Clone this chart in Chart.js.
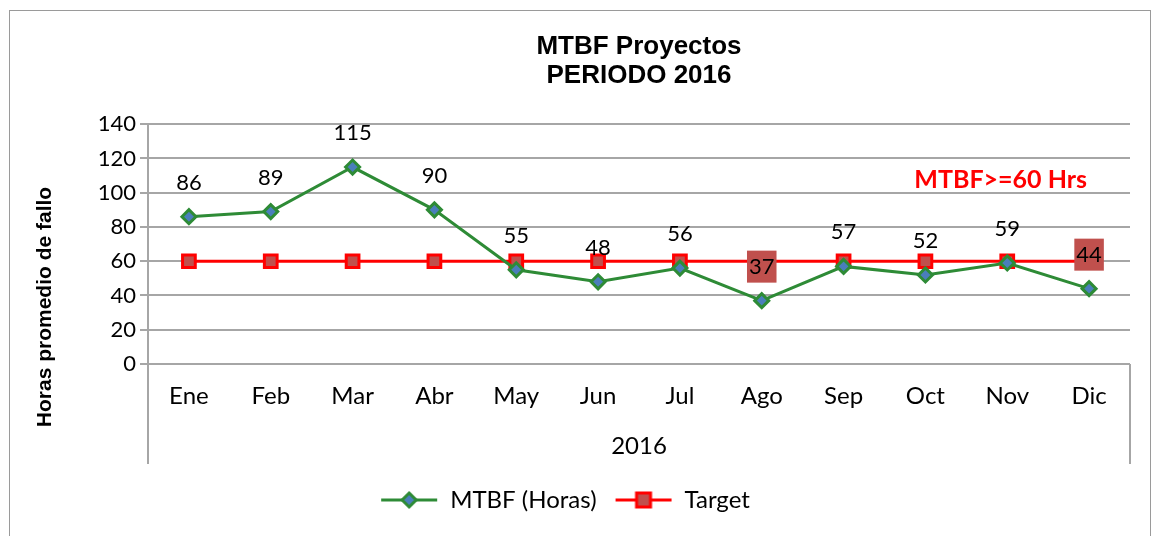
<!DOCTYPE html>
<html>
<head>
<meta charset="utf-8">
<script src="https://cdn.jsdelivr.net/npm/chart.js@4.4.0/dist/chart.umd.min.js"></script>
<style>
  html, body { margin: 0; padding: 0; background: #fff; }
  #wrap { position: relative; width: 1158px; height: 536px; }
</style>
</head>
<body>
<div id="wrap"><canvas id="chart" width="1158" height="536"></canvas></div>
<script>
// ===== data =====
const months = ['Ene', 'Feb', 'Mar', 'Abr', 'May', 'Jun', 'Jul', 'Ago', 'Sep', 'Oct', 'Nov', 'Dic'];
const mtbf   = [86, 89, 115, 90, 55, 48, 56, 37, 57, 52, 59, 44];
const target = [60, 60, 60, 60, 60, 60, 60, 60, 60, 60, 60, 60];
const yTicks = [0, 20, 40, 60, 80, 100, 120, 140];
const boxedLabels = ['Ago', 'Dic']; // labels que Excel dibuja con fondo rojo

const GREEN = '#2e8b36';
const RED = '#ff0000';
const GRID = '#a6a6a6';
const FONT = 'Lato, "Open Sans", sans-serif';

// iconos de la leyenda (linea + marcador)
function legendIcon(line, fill, diamond) {
  const c = document.createElement('canvas');
  c.width = 58; c.height = 22;
  const g = c.getContext('2d');
  g.strokeStyle = line; g.lineWidth = 3;
  g.beginPath(); g.moveTo(1, 11); g.lineTo(57, 11); g.stroke();
  g.fillStyle = fill;
  g.beginPath();
  if (diamond) {
    g.moveTo(29, 4); g.lineTo(36, 11); g.lineTo(29, 18); g.lineTo(22, 11); g.closePath();
  } else {
    g.rect(22, 4, 14, 14);
  }
  g.fill(); g.lineWidth = 3; g.stroke();
  return c;
}

const decor = {
  id: 'decor',
  beforeDraw(chart) {
    const ctx = chart.ctx;
    ctx.save();
    ctx.strokeStyle = '#9a9a9a';
    ctx.lineWidth = 1;
    ctx.strokeRect(9.5, 10.5, 1141, 600);
    ctx.restore();
  },
  afterDraw(chart) {
    const { ctx, chartArea: a } = chart;
    ctx.save();
    // caja de categorias bajo el eje
    ctx.strokeStyle = GRID;
    ctx.lineWidth = 2;
    ctx.beginPath();
    ctx.moveTo(a.left, a.bottom); ctx.lineTo(a.left, a.bottom + 100);
    ctx.moveTo(a.right, a.bottom); ctx.lineTo(a.right, a.bottom + 100);
    ctx.stroke();

    // titulo eje Y
    ctx.translate(45, 307);
    ctx.rotate(-Math.PI / 2);
    ctx.font = 'bold 21px "Liberation Sans", Arial, sans-serif';
    ctx.fillStyle = '#000';
    ctx.textAlign = 'center';
    ctx.textBaseline = 'middle';
    ctx.fillText('Horas promedio de fallo', 0, 0);
    ctx.restore();
  },
  afterDatasetsDraw(chart) {
    const { ctx, chartArea: a } = chart;
    const meta = chart.getDatasetMeta(0);
    ctx.save();
    ctx.font = '22px ' + FONT;
    ctx.textAlign = 'center';
    ctx.textBaseline = 'middle';
    meta.data.forEach((pt, i) => {
      const txt = String(mtbf[i]);
      const y = pt.y - 34;
      if (boxedLabels.includes(months[i])) {
        const w = ctx.measureText(txt).width + 4;
        ctx.fillStyle = '#c0504d';
        ctx.fillRect(pt.x - w / 2, y - 16, w, 32);
      }
      ctx.fillStyle = '#000';
      ctx.fillText(txt, pt.x, y);
    });
    // anotacion de la meta
    ctx.font = 'bold 25px ' + FONT;
    ctx.fillStyle = RED;
    ctx.textAlign = 'right';
    ctx.fillText('MTBF>=60 Hrs', a.right - 43, a.top + 56);
    ctx.restore();
  }
};

new Chart(document.getElementById('chart'), {
  type: 'line',
  data: {
    labels: months,
    datasets: [
      {
        label: 'MTBF (Horas)',
        data: mtbf,
        borderColor: GREEN,
        borderWidth: 3,
        backgroundColor: '#4a7ebb',
        pointStyle: 'rectRot',
        pointRadius: 7,
        pointBorderColor: GREEN,
        pointBorderWidth: 3,
        tension: 0
      },
      {
        label: 'Target',
        data: target,
        borderColor: RED,
        borderWidth: 3,
        backgroundColor: '#c0504d',
        pointStyle: 'rect',
        pointRadius: 9,
        pointBorderColor: RED,
        pointBorderWidth: 3,
        tension: 0
      }
    ]
  },
  options: {
    responsive: false,
    animation: false,
    layout: { padding: { top: 32, left: 0, right: 28, bottom: 14 } },
    plugins: {
      title: {
        display: true,
        text: ['MTBF Proyectos', 'PERIODO 2016'],
        color: '#000',
        fullSize: false,
        font: { family: '"Liberation Sans", Arial, sans-serif', size: 26, weight: 'bold', lineHeight: 1.12 },
        padding: { top: 0, bottom: 34 }
      },
      legend: {
        position: 'bottom',
        labels: {
          usePointStyle: true,
          pointStyleWidth: 58,
          color: '#000',
          padding: 18,
          font: { family: FONT, size: 24 },
          generateLabels: chart => chart.data.datasets.map((ds, i) => ({
            text: ds.label,
            datasetIndex: i,
            fontColor: '#000',
            lineWidth: 0,
            pointStyle: i === 0 ? legendIcon(GREEN, '#4a7ebb', true) : legendIcon(RED, '#c0504d', false)
          }))
        }
      },
      tooltip: { enabled: false }
    },
    scales: {
      x: {
        offset: true,
        grid: { display: false },
        border: { display: false },
        ticks: { color: '#000', padding: 10, font: { family: FONT, size: 24 }, maxRotation: 0, autoSkip: false },
        title: { display: true, text: '2016', color: '#000', font: { family: FONT, size: 24 }, padding: { top: 8, bottom: 9 } },
        afterFit: s => { s.height = 106; }
      },
      y: {
        min: 0,
        max: 140,
        afterBuildTicks: s => { s.ticks = yTicks.map(v => ({ value: v })); },
        grid: { color: GRID, lineWidth: 2, tickLength: 8 },
        border: { display: true, color: GRID, width: 2 },
        ticks: { color: '#000', padding: 4, autoSkip: false, font: { family: FONT, size: 22 } },
        afterFit: s => { s.width = 148; }
      }
    }
  },
  plugins: [decor]
});
</script>
</body>
</html>
